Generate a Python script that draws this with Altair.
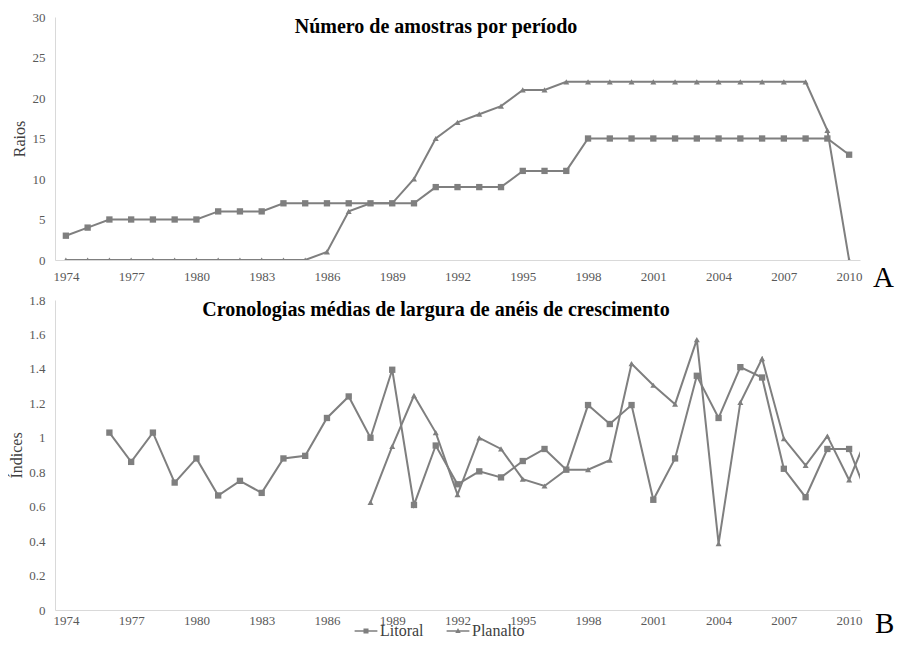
import altair as alt
import pandas as pd

# ---------------- data ----------------
anos_a = list(range(1974, 2011))
litoral_amostras = [3, 4, 5, 5, 5, 5, 5, 6, 6, 6, 7, 7, 7, 7, 7, 7, 7, 9, 9, 9, 9,
                    11, 11, 11, 15, 15, 15, 15, 15, 15, 15, 15, 15, 15, 15, 15, 13]
planalto_amostras = [0, 0, 0, 0, 0, 0, 0, 0, 0, 0, 0, 0, 1, 6, 7, 7, 10, 15, 17, 18, 19,
                     21, 21, 22, 22, 22, 22, 22, 22, 22, 22, 22, 22, 22, 22, 16, 0]

anos_litoral_b = list(range(1976, 2012))
litoral_indices = [1.03, 0.86, 1.03, 0.74, 0.88, 0.665, 0.75, 0.68, 0.88, 0.895, 1.115,
                   1.24, 1.0, 1.395, 0.61, 0.955, 0.73, 0.805, 0.77, 0.865, 0.935, 0.815,
                   1.19, 1.08, 1.19, 0.64, 0.88, 1.36, 1.115, 1.41, 1.35, 0.82, 0.655,
                   0.935, 0.935, 0.61]
anos_planalto_b = list(range(1988, 2012))
planalto_indices = [0.625, 0.95, 1.245, 1.03, 0.67, 1.0, 0.935, 0.76, 0.72, 0.815, 0.815,
                    0.87, 1.43, 1.305, 1.195, 1.57, 0.385, 1.205, 1.46, 0.995, 0.84, 1.01,
                    0.755, 1.06]

series = ["Litoral", "Planalto"]
x_ticks = list(range(1974, 2011, 3))
y_ticks_a = [0, 5, 10, 15, 20, 25, 30]
y_ticks_b = [0, 0.2, 0.4, 0.6, 0.8, 1.0, 1.2, 1.4, 1.6, 1.8]
titulo_a = "Número de amostras por período"
titulo_b = "Cronologias médias de largura de anéis de crescimento"

# ---------------- style ----------------
GRAY = "#7f7f7f"
FONT = "Liberation Serif"
W = 805
HA = 243
HB = 310

dfA = pd.DataFrame({
    "ano": anos_a + anos_a,
    "serie": ["Litoral"] * len(anos_a) + ["Planalto"] * len(anos_a),
    "valor": litoral_amostras + planalto_amostras,
})
dfB = pd.DataFrame({
    "ano": anos_litoral_b + anos_planalto_b,
    "serie": ["Litoral"] * len(anos_litoral_b) + ["Planalto"] * len(anos_planalto_b),
    "valor": litoral_indices + planalto_indices,
})

x_scale = alt.Scale(domain=[1973.5, 2010.5], nice=False, zero=False)


def x_enc(pad):
    return alt.X("ano:Q", scale=x_scale,
                 axis=alt.Axis(values=x_ticks, format="d", title=None, labelPadding=pad))


def panel(df, x, y_enc, titulo, title_y, letra, letra_size, letra_x, letra_y):
    base = alt.Chart(df).encode(x=x, y=y_enc)
    lines = base.mark_line(color=GRAY, strokeWidth=2, clip=True).encode(detail="serie:N")
    sq = base.mark_point(shape="square", filled=True, color=GRAY, size=40,
                         opacity=1, clip=True).transform_filter(alt.datum.serie == "Litoral")
    tri = base.mark_point(shape="triangle-up", filled=True, color=GRAY, size=36,
                          opacity=1, clip=True).transform_filter(alt.datum.serie == "Planalto")
    title = alt.Chart(pd.DataFrame({"t": [titulo]})).mark_text(
        font=FONT, fontSize=20, fontWeight="bold", color="#000000", baseline="middle"
    ).encode(text="t:N", x=alt.value(381), y=alt.value(title_y))
    letter = alt.Chart(pd.DataFrame({"t": [letra]})).mark_text(
        font=FONT, fontSize=letra_size, color="#000000", align="left", baseline="alphabetic"
    ).encode(text="t:N", x=alt.value(letra_x), y=alt.value(letra_y))
    return [lines, sq, tri, title, letter]


yA = alt.Y("valor:Q", scale=alt.Scale(domain=[0, 30], nice=False),
           axis=alt.Axis(values=y_ticks_a, format="d", title="Raios", titlePadding=5))
yB = alt.Y("valor:Q", scale=alt.Scale(domain=[0, 1.8], nice=False),
           axis=alt.Axis(values=y_ticks_b, format="~g", title="Índices", titlePadding=4))

chartA = alt.layer(*panel(dfA, x_enc(10), yA, titulo_a, 10, "A", 29, 818, 270)).properties(
    width=W, height=HA)

# legend symbols: a short line with the series marker in the middle (filled paths)
p_lit = "M-1.9,-0.14H1.9V0.14H-1.9Z M-0.42,-0.42H0.42V0.42H-0.42Z"
p_pla = "M-1.9,-0.14H1.9V0.14H-1.9Z M0,-0.5L0.45,0.32H-0.45Z"
xB = x_enc(4)
legend_layer = alt.Chart(dfB).mark_point(
    filled=True, color=GRAY, opacity=1
).encode(
    x=xB, y=yB,
    shape=alt.Shape("serie:N", scale=alt.Scale(domain=series, range=[p_lit, p_pla]),
                    legend=alt.Legend(title=None, orient="none", legendX=303, legendY=606,
                                      direction="horizontal", symbolSize=144,
                                      symbolFillColor=GRAY, symbolOpacity=1,
                                      symbolStrokeWidth=0,
                                      labelFont=FONT, labelFontSize=16, labelColor="#404040",
                                      labelOffset=6, columnPadding=22, padding=0)),
).transform_filter("datum.ano < 0")

chartB = alt.layer(*panel(dfB, xB, yB, titulo_b, 10, "B", 29, 820, 333),
                   legend_layer).properties(width=W, height=HB)

chart = alt.vconcat(chartA, chartB, spacing=40, bounds="flush").properties(
    padding={"left": 0, "top": 3, "right": 0, "bottom": 0},
).configure_view(stroke=None).configure_axis(
    domainColor="#d9d9d9", domainWidth=1, ticks=False, grid=False,
    labelFont=FONT, labelFontSize=13, labelColor="#595959",
    titleFont=FONT, titleFontSize=16, titleFontWeight="normal", titleColor="#404040",
).configure_axisY(labelPadding=10)

chart.save("out.html", embed_options={"renderer": "svg", "actions": False})
